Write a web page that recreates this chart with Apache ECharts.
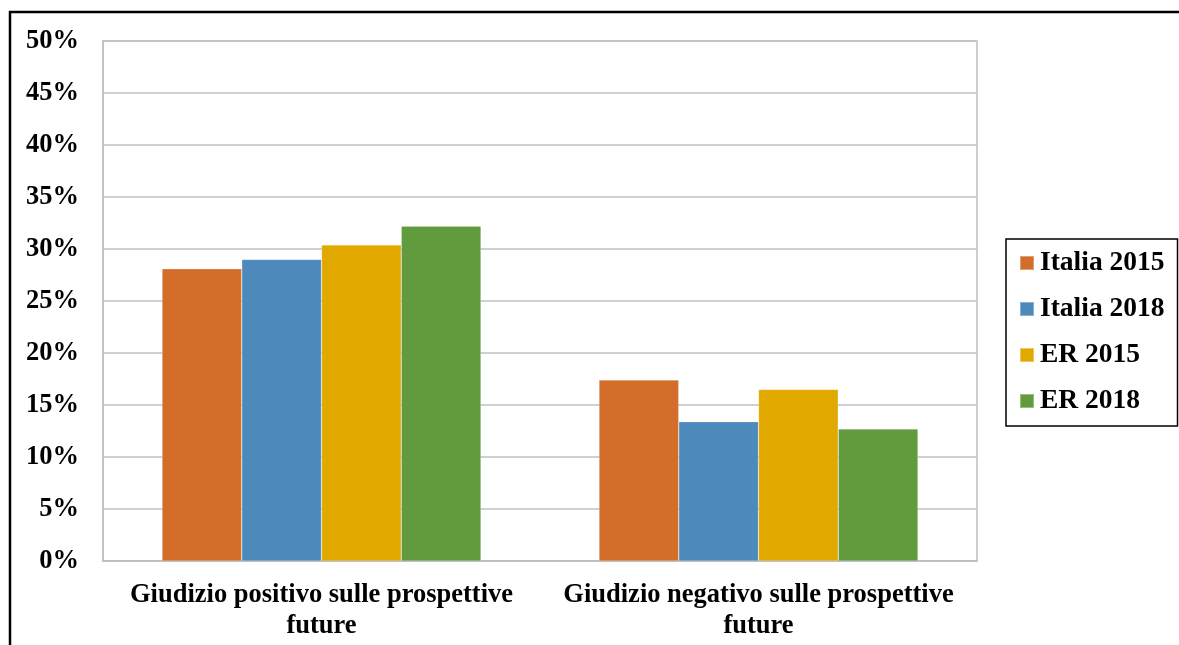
<!DOCTYPE html>
<html>
<head>
<meta charset="utf-8">
<script src="https://cdn.jsdelivr.net/npm/echarts@6/dist/echarts.min.js"></script>
<style>
  html, body { margin: 0; padding: 0; background: #fff; }
  #chart { width: 1179px; height: 645px; }
</style>
</head>
<body>
<div id="chart"></div>
<script>
// Categories and series values (percent)
const categories = [
  'Giudizio positivo sulle prospettive\nfuture',
  'Giudizio negativo sulle prospettive\nfuture'
];
const seriesNames = ['Italia 2015', 'Italia 2018', 'ER 2015', 'ER 2018'];
const italia2015 = [28.1, 17.4];
const italia2018 = [29.0, 13.4];
const er2015 = [30.4, 16.5];
const er2018 = [32.2, 12.7];
const seriesValues = [italia2015, italia2018, er2015, er2018];
const seriesColors = ['#D26E2A', '#4E89BC', '#E1A900', '#619B3E'];

const serif = '"Liberation Serif", "Times New Roman", serif';
const fontSize = 26.5;

const chart = echarts.init(document.getElementById('chart'));

chart.setOption({
  animation: false,
  backgroundColor: '#ffffff',
  graphic: [{
    type: 'rect',
    silent: true,
    shape: { x: 10, y: 12, width: 1250, height: 700 },
    style: { fill: 'none', stroke: '#000', lineWidth: 2.5 }
  }],
  grid: {
    left: 103, top: 41, right: 202, bottom: 84,
    show: true, borderColor: '#BFBFBF', borderWidth: 1.5,
    containLabel: false
  },
  legend: {
    orient: 'vertical',
    left: 1006, top: 239,
    padding: [10, 13, 11, 13],
    itemWidth: 14, itemHeight: 14,
    itemGap: 18,
    borderColor: '#000', borderWidth: 1.5,
    icon: 'rect',
    data: seriesNames,
    textStyle: { fontFamily: serif, fontWeight: 'bold', fontSize: 27.5, color: '#000', padding: [0, 0, 0, 1] }
  },
  xAxis: {
    type: 'category',
    data: categories,
    axisLine: { show: true, lineStyle: { color: '#BFBFBF', width: 1.5 } },
    axisTick: { show: false },
    axisLabel: {
      color: '#000', fontFamily: serif, fontWeight: 'bold', fontSize: fontSize,
      lineHeight: 31, margin: 19, interval: 0
    }
  },
  yAxis: {
    type: 'value',
    min: 0, max: 50, interval: 5,
    axisLine: { show: true, lineStyle: { color: '#BFBFBF', width: 1.5 } },
    axisTick: { show: false },
    splitLine: { lineStyle: { color: '#BFBFBF', width: 1.5 } },
    axisLabel: {
      formatter: '{value}%',
      color: '#000', fontFamily: serif, fontWeight: 'bold', fontSize: fontSize, margin: 24
    }
  },
  series: seriesNames.map((name, i) => ({
    name: name,
    type: 'bar',
    data: seriesValues[i],
    barGap: '0%',
    barCategoryGap: '27%',
    itemStyle: { color: seriesColors[i], borderColor: 'rgba(255,255,255,0.35)', borderWidth: 0.6 }
  }))
});
</script>
</body>
</html>
